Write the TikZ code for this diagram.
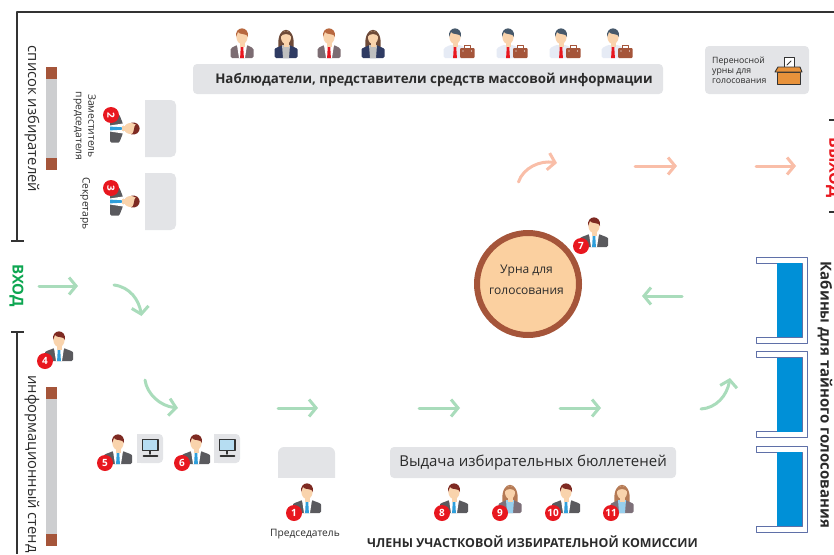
\documentclass[tikz,border=0pt]{standalone}
\usepackage{fontspec}
\setmainfont{Open Sans}
\usetikzlibrary{arrows.meta}
\definecolor{wallc}{HTML}{333333}
\definecolor{panelc}{HTML}{E3E4E7}
\definecolor{standc}{HTML}{CDCED0}
\definecolor{brickc}{HTML}{A5553A}
\definecolor{redc}{HTML}{E8171F}
\definecolor{goc}{HTML}{A9DCBB}
\definecolor{outc}{HTML}{F9BEA8}
\definecolor{skinc}{HTML}{F9D3AC}
\definecolor{suitc}{HTML}{5A5A5E}
\definecolor{hairc}{HTML}{7E2A22}
\definecolor{tiec}{HTML}{2F9FDB}
\definecolor{blackc}{HTML}{2B2B2B}
\definecolor{boothc}{HTML}{0090D7}
\definecolor{framec}{HTML}{5F70A8}
\definecolor{greyman}{HTML}{7C6C72}
\definecolor{gingerc}{HTML}{B8683F}
\definecolor{navyc}{HTML}{2F3B63}
\definecolor{brownc}{HTML}{6E4A38}
\definecolor{slatec}{HTML}{47596B}
\definecolor{shirtc}{HTML}{E6EBF5}
\definecolor{mauvec}{HTML}{7D7079}
\definecolor{aubc}{HTML}{B57A55}
\definecolor{boxc}{HTML}{E8923B}
\definecolor{urnc}{HTML}{FBD0A0}
\definecolor{enterc}{HTML}{0DA651}
\tikzset{
	gotip/.style={->,goc,line width=3pt},
	outtip/.style={->,outc,line width=3pt},
	badge/.style={circle,fill=redc,text=white,inner sep=0pt,minimum size=16pt,font=\bfseries\fontsize{10}{10}\selectfont},
	panel/.style={fill=panelc,rounded corners=4pt},
	label/.style={text=blackc,inner sep=0pt,align=center}
}
\begin{document}
\begin{tikzpicture}[x=1pt,y=-1pt,>={Straight Barb[length=7pt,width=17pt]},line join=round,line cap=round]
		\useasboundingbox (0,0) rectangle (834,554);
		\clip (0,0) rectangle (834,554);
		% man: x, y of the feet, rotation, half width, suit, shirt, tie, hair
		\def\man(#1,#2,#3,#4,#5,#6,#7,#8){
			\begin{scope}[shift={(#1,#2)},rotate=#3]
			\fill[#5,rounded corners=1.5pt] (-#4,0)--(-#4,-7)..controls (-#4,-10) and (-9,-11) .. (-5,-13)--(5,-13)..controls (9,-11) and (#4,-10) .. (#4,-7)--(#4,0)--cycle;
			\fill[#6] (-5,-13)--(5,-13)--(3,0)--(-3,0)--cycle;
			\fill[#7] (-1.2,-12)--(1.2,-12)--(1.9,0)--(-1.9,0)--cycle;
			\fill[skinc] (0,-21) ellipse (5.6 and 7);
			\fill[skinc] (-2.5,-16) rectangle (2.5,-11.5);
			\fill[#8] (-6,-21)..controls (-7.5,-32.5) and (7.5,-32.5) .. (6,-21)..controls (5.5,-25) and (-3,-23) .. (-4,-26)..controls (-5,-24) and (-5.5,-23) .. (-6,-21)--cycle;
			\end{scope}
		}
		% woman: x, y of the feet, suit, shirt, hair
		\def\woman(#1,#2,#3,#4,#5){
			\begin{scope}[shift={(#1,#2)}]
			\fill[#5] (-7.5,-11)..controls (-10,-34) and (10,-34) .. (7.5,-11)--cycle;
			\fill[#3,rounded corners=1.5pt] (-11.5,0)--(-11.5,-7)..controls (-11.5,-10) and (-7,-11) .. (-4,-13)--(4,-13)..controls (7,-11) and (11.5,-10) .. (11.5,-7)--(11.5,0)--cycle;
			\fill[#4] (-4,-13)--(4,-13)--(3,0)--(-3,0)--cycle;
			\fill[skinc] (0,-20.5) ellipse (5 and 6.5);
			\fill[skinc] (-2.5,-16) rectangle (2.5,-11.5);
			\fill[#5] (-5.5,-21)..controls (-6,-29) and (6,-29) .. (5.5,-21)..controls (4,-25) and (-4,-25) .. (-5.5,-21)--cycle;
			\end{scope}
		}
		\def\case(#1,#2){
			\fill[brickc,rounded corners=1pt] (#1+5,#2-10) rectangle (#1+19.5,#2);
			\draw[brickc,line width=0.8pt] (#1+9,#2-10)--(#1+9,#2-13)--(#1+15.5,#2-13)--(#1+15.5,#2-10);
			\fill[white] (#1+8,#2-7) circle (0.7);
			\fill[white] (#1+16.5,#2-7) circle (0.7);
		}
		\def\screen(#1,#2){
			\fill[panelc,rounded corners=4pt] (#1,#2)--(#1+26,#2)--(#1+26,#2+29)--(#1,#2+29)--cycle;
			\fill[panelc] (#1,#2) rectangle (#1+8,#2+29);
			\draw[wallc,fill=tiec!35,line width=1.3pt] (#1+5.5,#2+5.5) rectangle (#1+21,#2+16.5);
			\draw[wallc,line width=1.4pt] (#1+13,#2+17)--(#1+13,#2+20);
			\draw[wallc,line width=1.6pt] (#1+6.5,#2+22)--(#1+20.5,#2+22);
		}
		\def\cabin(#1,#2){
			\draw[framec,fill=white,line width=0.9pt] (#1,#2)--(#1+51,#2)--(#1+51,#2+86)--(#1,#2+86)--(#1,#2+80)--(#1+46,#2+80)--(#1+46,#2+6)--(#1,#2+6)--cycle;
			\fill[boothc] (#1+21,#2+6) rectangle (#1+46,#2+80);
		}
		% walls
		\draw[wallc,line width=2.4pt,line cap=butt] (11,241)--(24,241);
		\draw[wallc,line width=2.4pt,line cap=butt] (17,241)--(17,12)--(834,12);
		\draw[wallc,line width=2.4pt,line cap=butt] (11,332)--(24,332);
		\draw[wallc,line width=2.4pt,line cap=butt] (17,332)--(17,554);
		\draw[wallc,line width=2.4pt,line cap=butt] (829,120)--(834,120);
		\draw[wallc,line width=2.4pt,line cap=butt] (829,212)--(834,212);
		\node[text=redc,rotate=-90,inner sep=0pt,font=\bfseries\fontsize{16}{16}\selectfont] (exit) at (833.5,167.5) {ВЫХОД};
		\node[text=enterc,rotate=-90,inner sep=0pt,font=\bfseries\fontsize{15}{15}\selectfont] (entry) at (16.5,285.5) {ВХОД};
		% stands
		\fill[standc] (45.5,67) rectangle (57,170);
		\fill[brickc] (45.5,67) rectangle (57,79);
		\fill[brickc] (45.5,158) rectangle (57,170);
		\fill[standc] (45.5,387) rectangle (57,546);
		\fill[brickc] (45.5,387) rectangle (57,399);
		\fill[brickc] (45.5,534) rectangle (57,546);
		\node[label,rotate=-90,font=\fontsize{14.8}{15}\selectfont] (voters) at (32,119) {список избирателей};
		\node[label,rotate=-90,font=\fontsize{14.8}{15}\selectfont] (info) at (32,464) {информационный стенд};
		% tables
		\fill[panelc,rounded corners=5pt] (140,100)--(176,100)--(176,157)--(140,157)--cycle;
		\fill[panelc,rounded corners=5pt] (140,173)--(176,173)--(176,230)--(140,230)--cycle;
		\fill[white] (135,95) rectangle (145,235);
		\fill[panelc,rounded corners=6pt] (278,485)--(278,447)--(335,447)--(335,485)--cycle;
		\fill[white] (270,478) rectangle (340,490);
		\node[label,rotate=-90,font=\fontsize{10.3}{12.5}\selectfont] (deputy) at (84.5,126) {Заместитель\\председателя};
		\node[label,rotate=-90,font=\fontsize{10.3}{12.5}\selectfont] (clerk) at (85,203.5) {Секретарь};
		\node[label,font=\fontsize{10.2}{12}\selectfont] (chair) at (305,534.5) {Председатель};
		% top row
		\man(242,58,0,11.5,greyman,white,redc,gingerc)
		\woman(286,58,navyc,gray!50,brownc)
		\man(329,58,0,11.5,greyman,white,redc,gingerc)
		\woman(373,58,navyc,gray!50,brownc)
		\man(455,58,0,11.5,shirtc,shirtc,redc,slatec)
		\man(508,58,0,11.5,shirtc,shirtc,redc,slatec)
		\man(561,58,0,11.5,shirtc,shirtc,redc,slatec)
		\man(613,58,0,11.5,shirtc,shirtc,redc,slatec)
		\case(455,58)
		\case(508,58)
		\case(561,58)
		\case(613,58)
		\fill[panel] (193,64) rectangle (663,94);
		\node[label,font=\bfseries\fontsize{13.3}{15}\selectfont] (press) at (434,80) {Наблюдатели, представители средств массовой информации};
		% portable box
		\fill[panel] (705,46) rectangle (809,94);
		\node[label,align=left,anchor=west,font=\fontsize{8.7}{10.2}\selectfont] (portable) at (712,70) {Переносной\\урны для\\голосования};
		\draw[wallc,fill=boxc,line width=0.9pt] (777.5,72)rectangle (800,84);
		\draw[wallc,fill=white,line width=0.8pt] (784,57.5) rectangle (794,68);
		\draw[wallc,fill=boxc,line width=0.9pt] (775,72)--(778,67)--(800,67)--(802,72)--cycle;
		\draw[wallc,line width=1pt] (787,65)--(791,61);
		% urn
		\node[circle,draw=brickc,fill=urnc,line width=6pt,minimum size=102pt,inner sep=0pt] (urn) at (528,284) {};
		\node[label,font=\fontsize{12}{21}\selectfont] (urntext) at (526.5,280) {Урна для\\голосования};
		% people with numbers
		\man(307,513,0,14,suitc,white,tiec,hairc)
		\man(110,128.5,-90,14,suitc,white,tiec,hairc)
		\man(110,201.5,-90,14,suitc,white,tiec,hairc)
		\man(59,361,0,14,suitc,white,tiec,hairc)
		\man(118,464,0,14,suitc,white,tiec,hairc)
		\man(196,464,0,14,suitc,white,tiec,hairc)
		\man(594,247,0,14,suitc,white,tiec,hairc)
		\man(454,513,0,14,suitc,white,tiec,hairc)
		\woman(510,513,mauvec,tiec!50,aubc)
		\man(566,513,0,14,suitc,white,tiec,hairc)
		\woman(622,513,mauvec,tiec!50,aubc)
		\node[badge] (b1) at (294,513) {1};
		\node[badge,rotate=-90] (b2) at (111,115) {2};
		\node[badge,rotate=-90] (b3) at (111,188) {3};
		\node[badge] (b4) at (45,361) {4};
		\node[badge] (b5) at (105,463) {5};
		\node[badge] (b6) at (182,463) {6};
		\node[badge] (b7) at (581,246) {7};
		\node[badge] (b8) at (442,513) {8};
		\node[badge] (b9) at (500,513) {9};
		\node[badge] (b10) at (553,513) {10};
		\node[badge] (b11) at (611,513) {11};
		\screen(137,434)
		\screen(214,434)
		% issue desk
		\fill[panel] (390,447) rectangle (676,478);
		\node[label,font=\fontsize{15}{16}\selectfont] (issue) at (533,463) {Выдача избирательных бюллетеней};
		\node[label,font=\bfseries\fontsize{12.4}{14}\selectfont] (members) at (532.5,542) {ЧЛЕНЫ УЧАСТКОВОЙ ИЗБИРАТЕЛЬНОЙ КОМИССИИ};
		% cabins
		\cabin(756,257)
		\cabin(756,351.5)
		\cabin(756,446)
		\node[label,rotate=-90,font=\bfseries\fontsize{15}{15}\selectfont] (cabins) at (825,395) {Кабины для тайного голосования};
		% route
		\draw[gotip] (39,286)--(78,286);
		\draw[gotip] (114,285)..controls (130,287) and (139,300) .. (141.5,316);
		\draw[gotip] (145,380)..controls (147,394) and (160,406) .. (178,408);
		\draw[gotip] (278,408)--(318,408);
		\draw[gotip] (419,408)--(460,408);
		\draw[gotip] (560,408)--(601,408);
		\draw[gotip] (701,409)..controls (716,408) and (727,396) .. (730,378);
		\draw[gotip] (682,296)--(642,296);
		\draw[outtip] (518.5,182)..controls (523,168) and (540,160) .. (557,163);
		\draw[outtip] (635,166)--(677,166);
		\draw[outtip] (756,166)--(796,166);
		\end{tikzpicture}
\end{document}
